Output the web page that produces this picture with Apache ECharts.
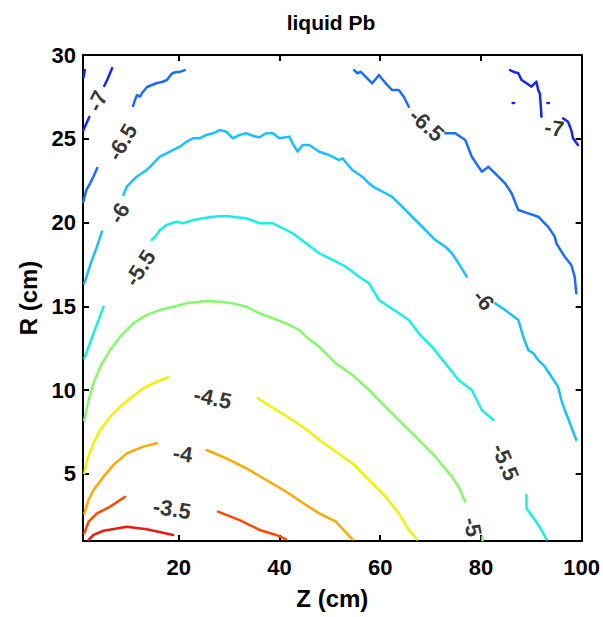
<!DOCTYPE html>
<html>
<head>
<meta charset="utf-8">
<title>liquid Pb</title>
<script src="https://cdn.jsdelivr.net/npm/echarts@6/dist/echarts.min.js"></script>
<style>
  html, body { margin: 0; padding: 0; background: #ffffff; }
  #chart { width: 603px; height: 617px; }
</style>
</head>
<body>
<div id="chart"></div>
<script>
// Contour levels of the field, Z (cm) along x, R (cm) along y
const levels = [-7, -6.5, -6, -5.5, -5, -4.5, -4, -3.5, -3];

// Tick values for both axes
const zTicks = [20, 40, 60, 80, 100];
const rTicks = [5, 10, 15, 20, 25, 30];

// Each level: list of open contour pieces, points as [Z, R]
const contourM70 = [
  [[1.16, 28.69], [1.36, 29.1]],
  [[1.06, 25.5], [1.65, 25.9], [2.25, 26.3]],
  [[5.21, 28.15], [5.8, 28.51], [6.39, 28.93], [6.79, 29.22]],
  [[85.78, 29.1], [86.44, 29.0], [87.42, 28.91], [88.07, 28.51], [89.06, 28.31], [90.04, 28.11],
   [91.03, 28.41], [91.37, 27.91], [91.7, 27.71], [91.9, 26.92], [92.02, 26.32]],
  [[96.31, 26.22], [97.3, 26.02], [97.94, 25.52], [98.28, 25.03], [99.27, 24.63]],
  [[86.3, 27.14], [86.6, 27.14]],
  [[93.2, 27.14], [93.5, 27.14]]
];
const contourM65 = [
  [[10.94, 26.96], [11.33, 27.32], [11.73, 27.61], [12.32, 27.52], [12.72, 27.73], [13.71, 28.09],
   [14.69, 28.21], [15.68, 28.33], [16.67, 28.39], [17.66, 28.51], [18.25, 28.75], [18.84, 28.93],
   [19.63, 28.99], [20.22, 28.99], [21.21, 29.1]],
  [[1.06, 21.23], [1.65, 21.94], [2.44, 22.36], [3.04, 22.72], [3.83, 23.26]],
  [[54.81, 29.1], [55.47, 28.91], [56.14, 29.0], [57.12, 28.7], [58.43, 28.31], [59.75, 28.81],
   [61.08, 28.31], [62.38, 27.91], [63.7, 27.91], [64.69, 27.51], [65.68, 26.91]],
  [[72.93, 25.33], [74.91, 25.33], [76.89, 24.93], [78.19, 23.93], [80.17, 23.04], [81.49, 23.33],
   [82.82, 22.94], [84.8, 22.34], [86.09, 21.75], [87.42, 20.75], [89.39, 20.55], [91.37, 20.35],
   [93.35, 19.75], [94.66, 19.16], [94.98, 18.76], [96.64, 17.96], [97.94, 17.47], [98.62, 16.77],
   [98.94, 15.78]]
];
const contourM60 = [
  [[9.02, 21.65], [9.69, 22.14], [11.67, 22.74], [13.65, 23.14], [14.3, 23.33], [16.27, 23.93],
   [18.25, 24.23], [20.23, 24.53], [21.55, 24.83], [22.85, 25.03], [24.18, 25.03], [25.5, 25.23],
   [26.81, 25.33], [28.13, 25.52], [29.45, 25.42], [30.76, 25.03], [32.08, 25.23], [33.41, 25.33],
   [34.71, 25.17], [36.03, 25.09], [37.36, 25.33], [38.66, 25.33], [39.99, 25.03], [41.96, 25.13],
   [42.61, 24.73], [43.6, 24.23], [44.59, 24.63], [45.91, 24.63], [47.89, 24.23], [49.87, 24.03],
   [51.85, 23.73], [52.5, 23.84], [54.48, 23.14], [56.45, 22.74], [57.77, 22.34], [59.1, 22.05],
   [61.07, 21.75], [62.38, 21.54], [64.35, 20.95], [66.33, 20.35], [67.65, 19.96], [69.63, 19.36],
   [70.95, 18.96], [72.93, 18.56], [74.23, 18.17], [75.55, 17.57], [77.19, 16.77]],
  [[1.26, 16.38], [2.11, 17.17], [2.78, 17.77], [3.77, 18.56], [4.75, 19.46]],
  [[82.82, 15.18], [84.8, 14.78], [87.42, 14.19], [88.4, 13.19], [89.39, 12.4], [90.38, 12.2],
   [91.37, 11.8], [92.69, 11.4], [94.0, 10.8], [95.32, 10.21], [95.97, 9.41], [96.64, 8.82],
   [97.94, 7.82], [98.93, 7.03]]
];
const contourM55 = [
  [[1.26, 11.9], [2.11, 12.59], [3.09, 13.39], [4.08, 14.19], [5.07, 14.98]],
  [[14.63, 18.96], [15.62, 19.26], [16.27, 19.56], [17.6, 19.86], [19.57, 20.05], [20.88, 19.96],
   [22.85, 20.15], [24.83, 20.26], [26.81, 20.35], [29.45, 20.39], [31.43, 20.32], [33.41, 20.26],
   [36.03, 19.96], [38.66, 19.96], [41.31, 19.56], [42.61, 19.36], [45.26, 18.76], [47.89, 18.17],
   [50.53, 17.77], [53.17, 17.37], [55.8, 16.77], [57.77, 16.38], [59.75, 15.38], [61.73, 14.98],
   [63.7, 14.59], [65.68, 14.19], [67.65, 13.39], [70.28, 12.59], [72.93, 11.6], [75.55, 10.61],
   [78.18, 10.01], [79.51, 9.22], [80.16, 8.82], [82.47, 8.22]],
  [[89.05, 3.74], [89.05, 2.95], [90.72, 2.25], [92.03, 1.66], [93.01, 1.1]]
];
const contourM50 = [
  [[1.26, 8.22], [2.11, 9.41], [3.09, 10.41], [4.42, 11.4], [6.39, 12.4], [8.37, 13.19],
   [11.0, 13.99], [13.65, 14.49], [16.27, 14.78], [18.9, 14.98], [21.55, 15.18], [25.5, 15.32],
   [28.13, 15.28], [30.76, 15.18], [33.41, 14.98], [36.03, 14.59], [38.66, 14.29], [41.31, 13.99],
   [43.94, 13.59], [45.26, 13.19], [47.89, 12.59], [51.19, 11.6], [54.47, 10.91], [57.77, 10.01],
   [61.07, 9.01], [64.35, 8.02], [67.65, 7.03], [70.95, 6.03], [74.23, 4.84], [75.55, 4.24],
   [76.88, 3.35]],
  [[80.3, 1.05], [80.3, 1.25]]
];
const contourM45 = [
  [[1.26, 5.04], [1.79, 5.83], [3.09, 6.83], [4.42, 7.62], [6.39, 8.42], [8.37, 9.01],
   [10.35, 9.52], [12.98, 10.11], [15.62, 10.51], [17.92, 10.77]],
  [[35.7, 9.52], [39.34, 8.82], [42.62, 8.22], [45.92, 7.52], [47.89, 7.03], [51.19, 6.33],
   [54.48, 5.64], [57.77, 4.64], [61.07, 3.64], [63.7, 2.65], [65.68, 1.66], [67.32, 1.1]]
];
const contourM40 = [
  [[1.26, 2.65], [2.11, 3.45], [3.09, 4.04], [5.07, 4.84], [7.05, 5.54], [9.69, 6.23],
   [12.97, 6.63], [15.62, 6.83]],
  [[25.5, 6.43], [29.46, 5.93], [33.41, 5.34], [37.36, 4.64], [41.32, 3.94], [45.27, 3.15],
   [47.89, 2.65], [51.19, 2.15], [54.47, 1.1]]
];
const contourM35 = [
  [[1.26, 1.46], [2.11, 2.15], [3.77, 2.65], [6.4, 3.05], [9.36, 3.64]],
  [[27.79, 2.75], [32.08, 2.25], [36.04, 1.66], [39.34, 1.36], [41.32, 1.1]]
];
const contourM30 = [
  [[2.11, 1.06], [3.09, 1.36], [5.07, 1.61], [9.69, 1.85], [13.65, 1.7], [18.9, 1.36]]
];

const contours = [contourM70, contourM65, contourM60, contourM55, contourM50,
                  contourM45, contourM40, contourM35, contourM30];

// Inline level labels: [Z, R, level]
const labelSpots = [
  [3.83, 27.25, -7], [8.77, 24.81, -6.5], [8.17, 20.57, -6], [12.32, 17.29, -5.5],
  [26.75, 9.53, -4.5], [20.82, 6.19, -4], [18.67, 2.91, -3.5],
  [69.24, 25.82, -6.5], [94.56, 25.64, -7], [80.51, 15.38, -6],
  [84.85, 5.71, -5.5], [78.35, 1.84, -5]
];
// text rotation for each label, degrees counter-clockwise
const labelAngles = [64, 60, 60, 57, -12, -8, -9, -42, -8, -50, -68, -78];

// jet-style colours, one per level
const levelColors = ['#1428f0', '#1a6cff', '#18c0ff', '#18f0e4', '#86f86c',
                     '#f2f200', '#ffa800', '#ff4a00', '#e81c10'];

const FONT = 'Liberation Sans';

const series = [];
contours.forEach((pieces, i) => {
  pieces.forEach(piece => {
    series.push({
      type: 'line',
      xAxisIndex: 0,
      yAxisIndex: 0,
      data: piece,
      showSymbol: false,
      symbol: 'none',
      smooth: false,
      clip: true,
      silent: true,
      lineStyle: { color: levelColors[i], width: 2.5, cap: 'round', join: 'round' }
    });
  });
});

const labelFont = { fontSize: 22, fontWeight: 'bold', fontFamily: FONT, color: '#000000' };

series.push({
  type: 'scatter',
  xAxisIndex: 0,
  yAxisIndex: 0,
  symbolSize: 1,
  itemStyle: { color: 'rgba(255,255,255,0)' },
  silent: true,
  z: 5,
  label: Object.assign({ show: true, position: 'inside' }, labelFont),
  data: labelSpots.map((p, k) => ({
    value: [p[0], p[1]],
    label: Object.assign({
      show: true,
      position: 'inside',
      formatter: String(p[2]),
      rotate: labelAngles[k]
    }, labelFont)
  }))
});

const axisCommon = {
  type: 'value',
  splitLine: { show: false },
  axisLine: { show: true, onZero: false, lineStyle: { color: '#000', width: 2 } }
};

const option = {
  animation: false,
  backgroundColor: '#ffffff',
  graphic: [{
    type: 'text',
    x: 331,
    y: 22,
    silent: true,
    style: {
      text: 'liquid Pb',
      fill: '#000',
      fontSize: 21,
      fontWeight: 'bold',
      fontFamily: FONT,
      align: 'center',
      verticalAlign: 'middle'
    }
  }],
  grid: { left: 83, right: 21, top: 55, bottom: 76 },
  xAxis: [
    Object.assign({}, axisCommon, {
      position: 'bottom',
      min: 1, max: 100,
      name: 'Z (cm)',
      nameLocation: 'middle',
      nameGap: 45,
      nameTextStyle: { fontFamily: FONT, fontWeight: 'bold', fontSize: 24, color: '#000' },
      axisTick: { show: true, inside: true, length: 6, customValues: zTicks,
                  lineStyle: { color: '#000', width: 2 } },
      axisLabel: { show: true, customValues: zTicks, margin: 15, color: '#000',
                   fontFamily: FONT, fontWeight: 'bold', fontSize: 22 }
    }),
    Object.assign({}, axisCommon, {
      position: 'top',
      min: 1, max: 100,
      axisTick: { show: true, inside: true, length: 6, customValues: zTicks,
                  lineStyle: { color: '#000', width: 2 } },
      axisLabel: { show: false }
    })
  ],
  yAxis: [
    Object.assign({}, axisCommon, {
      position: 'left',
      min: 1, max: 30,
      name: 'R (cm)',
      nameLocation: 'middle',
      nameGap: 42,
      nameRotate: 90,
      nameTextStyle: { fontFamily: FONT, fontWeight: 'bold', fontSize: 24, color: '#000' },
      axisTick: { show: true, inside: true, length: 6, customValues: rTicks,
                  lineStyle: { color: '#000', width: 2 } },
      axisLabel: { show: true, customValues: rTicks, margin: 7, color: '#000',
                   fontFamily: FONT, fontWeight: 'bold', fontSize: 22 }
    }),
    Object.assign({}, axisCommon, {
      position: 'right',
      min: 1, max: 30,
      axisTick: { show: true, inside: true, length: 6, customValues: rTicks,
                  lineStyle: { color: '#000', width: 2 } },
      axisLabel: { show: false }
    })
  ],
  series: series
};

const chart = echarts.init(document.getElementById('chart'), null, { renderer: 'svg' });
chart.setOption(option);
</script>
</body>
</html>
